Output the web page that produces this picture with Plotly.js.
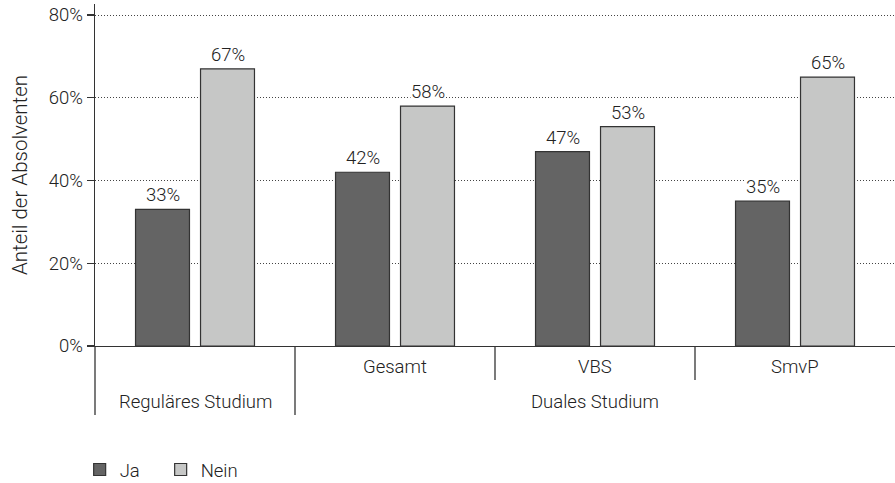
<!DOCTYPE html>
<html>
<head>
<meta charset="utf-8">
<script src="https://cdn.plot.ly/plotly-3.0.1.min.js"></script>
<style>
  html, body { margin: 0; padding: 0; background: #fff; }
  #chart { width: 895px; height: 483px; }
</style>
</head>
<body>
<div id="chart"></div>
<script>
// Anteil der Absolventen nach Studienform (Ja / Nein)
const groups = ["Reguläres Studium", "Duales Studium"];
const groupSpan = [[0, 0], [1, 3]];            // first / last category index of each group
const subgroups = ["", "Gesamt", "VBS", "SmvP"];
const ja = [0.33, 0.42, 0.47, 0.35];
const nein = [0.67, 0.58, 0.53, 0.65];
const seriesNames = ["Ja", "Nein"];
const yTicks = [0, 0.2, 0.4, 0.6, 0.8];

const idx = subgroups.map((_, i) => i);
const nCat = subgroups.length;
const BARGAP = 0.35;
const half = (1 - BARGAP) / 4;                  // offset of each bar centre within a category
const textColor = "#222";
const lineColor = "#333";
const baseFont = { family: "Roboto, 'Liberation Sans', sans-serif", size: 18.5, color: textColor, weight: 300 };

const traces = [
  { name: seriesNames[0], values: ja, color: "#646464" },
  { name: seriesNames[1], values: nein, color: "#c6c7c6" }
].map(s => ({
  type: "bar",
  name: s.name,
  x: idx,
  y: s.values,
  marker: { color: s.color, line: { color: lineColor, width: 1.2 } },
  hoverinfo: "skip"
}));

const annotations = [];
// value labels above the bars (white box breaks the dotted grid behind the text)
[ja, nein].forEach((vals, k) => {
  vals.forEach((v, i) => {
    annotations.push({
      x: i + (k === 0 ? -half : half), y: v, xref: "x", yref: "y",
      text: Math.round(v * 100) + "%", showarrow: false,
      yanchor: "bottom", yshift: 2, bgcolor: "#fff", borderpad: 0,
      font: baseFont
    });
  });
});
// inner category labels
subgroups.forEach((s, i) => {
  if (!s) return;
  annotations.push({
    x: i, y: 0, xref: "x", yref: "y", text: s, showarrow: false,
    yanchor: "middle", yshift: -21, font: baseFont
  });
});
// outer group labels
groups.forEach((g, j) => {
  annotations.push({
    x: (groupSpan[j][0] + groupSpan[j][1]) / 2, y: 0, xref: "x", yref: "y",
    text: g, showarrow: false, yanchor: "middle", yshift: -56, font: baseFont
  });
});

// divider lines below the category axis (boundary index -> fraction of plot width)
const shapes = [];
const dividers = [
  { b: 0, len: 69 }, { b: 1, len: 69 }, { b: 2, len: 34 }, { b: 3, len: 34 }
];
dividers.forEach(d => {
  shapes.push({
    type: "line", xref: "paper", yref: "paper", ysizemode: "pixel", yanchor: 0,
    x0: d.b / nCat, x1: d.b / nCat, y0: 0, y1: -d.len,
    line: { color: lineColor, width: 1.3 }
  });
});

const layout = {
  width: 895, height: 483,
  margin: { l: 95, r: 0, t: 4, b: 137 },
  paper_bgcolor: "#fff", plot_bgcolor: "#fff",
  font: baseFont,
  barmode: "group", bargap: BARGAP, bargroupgap: 0.17,
  showlegend: true,
  legend: {
    orientation: "h", xref: "container", yref: "container",
    x: 0.089, y: 0.027, xanchor: "left", yanchor: "middle",
    font: baseFont, entrywidth: 36, entrywidthmode: "pixels",
    itemclick: false, itemdoubleclick: false
  },
  xaxis: {
    range: [-0.5, 3.5], showticklabels: false, ticks: "",
    showline: true, linecolor: lineColor, linewidth: 1.3,
    showgrid: false, zeroline: false, fixedrange: true
  },
  yaxis: {
    range: [0, 0.8266], tickvals: yTicks, tickformat: ".0%",
    ticks: "outside", ticklen: 7, tickcolor: lineColor, tickwidth: 1.2,
    showline: true, linecolor: lineColor, linewidth: 1.3,
    showgrid: true, gridcolor: "#444", griddash: "1px,2px", gridwidth: 1,
    zeroline: false, fixedrange: true,
    title: { text: "Anteil der Absolventen", font: Object.assign({}, baseFont, { size: 20.5 }), standoff: 15 }
  },
  annotations: annotations,
  shapes: shapes
};

Plotly.newPlot("chart", traces, layout, { displayModeBar: false, staticPlot: true });
</script>
</body>
</html>
